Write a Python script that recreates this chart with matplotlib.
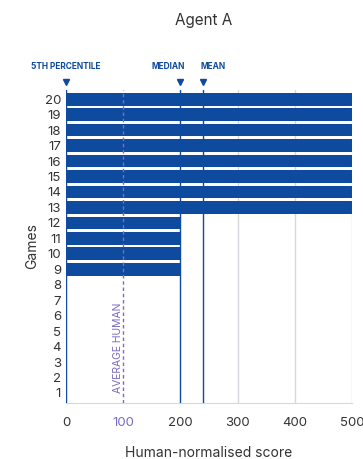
import matplotlib.pyplot as plt
import numpy as np

plt.rcParams['font.family'] = ['Inter', 'DejaVu Sans']

games = np.arange(1, 21)
scores = [0] * 8 + [200] * 4 + [500] * 8
ticks = [0, 100, 200, 300, 400, 500]
markers = {'5TH PERCENTILE': 0, 'MEDIAN': 200, 'MEAN': 240}
label_shift = {'5TH PERCENTILE': 0, 'MEDIAN': -9, 'MEAN': 7}
avg_human = 100

blue = '#0E4A9E'
purple = '#7A6BC4'

fig = plt.figure(figsize=(3.63, 4.59), dpi=100)
ax = fig.add_axes([0.182, 0.122, 0.788, 0.682])

ax.barh(games, scores, height=0.82, color=blue, zorder=2)

for x in [300, 400, 500]:
    ax.axvline(x, color='#d5d9de', lw=1, zorder=1)
ax.axvline(avg_human, color=purple, lw=1, ls=(0, (2.5, 2)), zorder=3)
for name, x in markers.items():
    ax.axvline(x, color=blue, lw=1, zorder=3)
    ax.plot(x, 1.025, marker='v', color=blue, ms=5, transform=ax.get_xaxis_transform(), clip_on=False)
    ax.annotate(name, (x, 1.06), xycoords=ax.get_xaxis_transform(),
                xytext=(label_shift[name], 0), textcoords='offset points',
                color=blue, fontsize=6, fontweight='bold', ha='center', va='bottom')

ax.text(avg_human - 9, 1.0, 'AVERAGE HUMAN', rotation=90, color=purple, fontsize=7.5,
        ha='center', va='bottom')

ax.set_xlim(0, 500)
ax.set_ylim(0.35, 20.6)
ax.set_xticks(ticks)
ax.set_yticks(games)
ax.tick_params(axis='both', length=0, labelsize=9.5, colors='#333333')
ax.tick_params(axis='x', pad=10)
ax.get_xticklabels()[1].set_color(purple)
for s in ['top', 'right', 'left']:
    ax.spines[s].set_visible(False)
ax.spines['bottom'].set_color('#d5d9de')

ax.set_xlabel('Human-normalised score', fontsize=10, labelpad=12, color='#333333')
ax.set_ylabel('Games', fontsize=10, color='#333333')
fig.text(0.56, 0.956, 'Agent A', fontsize=11, ha='center', va='center', color='#333333')

fig.savefig('out.png', dpi=100)
